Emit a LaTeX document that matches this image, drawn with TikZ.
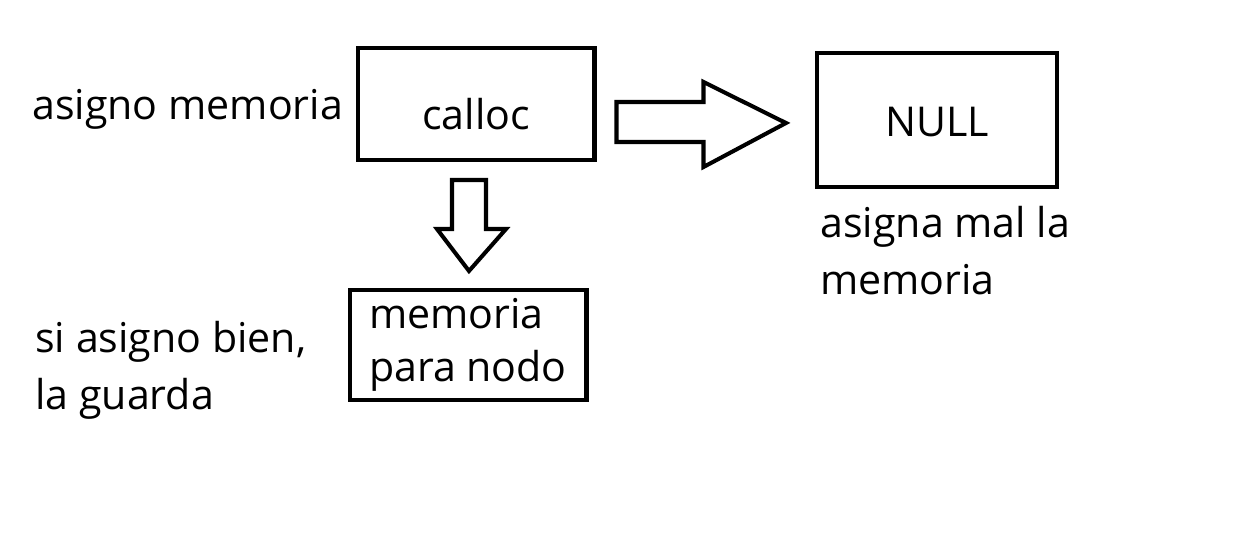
\documentclass[tikz,border=0pt]{standalone}
\usepackage{fontspec}
\setmainfont{Open Sans}
\usetikzlibrary{calc}
\newcommand{\txtfont}{\fontsize{23.4}{33}\selectfont}

\begin{document}
\begin{tikzpicture}[x=0.02cm, y=-0.02cm,
  box/.style={draw, line width=2.3pt, inner sep=0pt, font=\txtfont},
  note/.style={inner sep=0pt, align=left, font=\txtfont},
  fat/.style={draw, line width=2.3pt, line join=miter, fill=white}
]
\useasboundingbox (0,0) rectangle (1244,540);
\node[box, anchor=base, minimum width=4.74cm,
      text height=1.64cm, text depth=0.6cm] (calloc) at (476,130) {calloc};
\node[box, anchor=base, minimum width=4.8cm,
      text height=1.68cm, text depth=1.0cm] (null) at (937,137) {NULL};
\node[box, minimum width=4.74cm, minimum height=2.2cm, align=left,
      font=\fontsize{23.4}{30.5}\selectfont] (nodo) at (468,345)
  {memoria\\para nodo};
\node[note, anchor=base west] (asigno) at (32,120) {asigno memoria};
\node[note, anchor=base west] (bien) at (35,410) {si asigno bien,\\la guarda};
\node[note, anchor=base west] (mal) at (820,295) {asigna mal la\\memoria};
% Connecting structure
\coordinate (ra) at ($(calloc.east)+(20,19)$);
\coordinate (rb) at ($(null.west)+(-29,3)$);
\draw[fat] ($(ra)+(0,-21)$) -- ($(ra)+(87,-21)$) -- ($(ra)+(87,-41)$)
  -- (rb) -- ($(ra)+(87,44)$) -- ($(ra)+(87,19)$) -- ($(ra)+(0,19)$) -- cycle;
\coordinate (da) at ($(calloc.south)+(-7,18)$);
\coordinate (db) at ($(nodo.north)+(1,-17)$);
\draw[fat] ($(da)+(-17,0)$) -- ($(da)+(17,0)$) -- ($(da)+(17,49)$)
  -- ($(da)+(37,49)$) -- (db) -- ($(da)+(-32,49)$) -- ($(da)+(-17,49)$) -- cycle;
\end{tikzpicture}
\end{document}
